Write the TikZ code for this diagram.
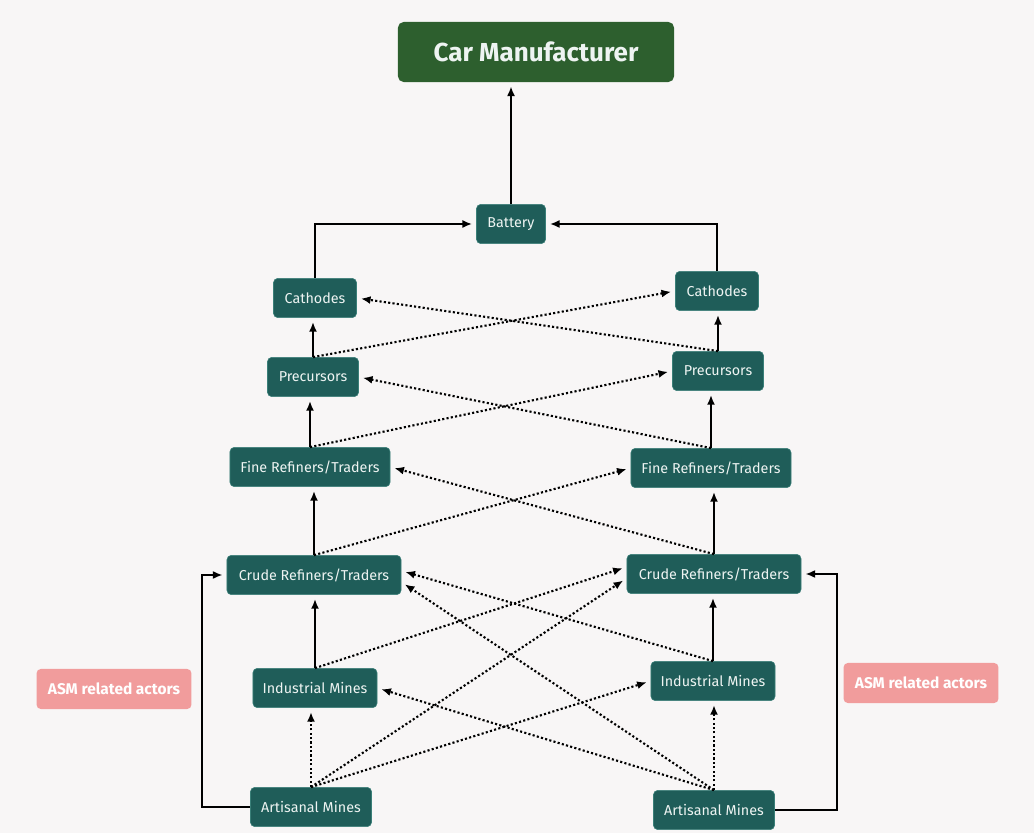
\documentclass[tikz,border=0pt]{standalone}
\usepackage{fontspec}
\setmainfont{Fira Sans}
\usepackage{tikz}
\usetikzlibrary{arrows.meta}
\definecolor{PageWhite}{HTML}{F8F6F6}
\definecolor{ForestGreen}{HTML}{2D5F2E}
\definecolor{DeepTeal}{HTML}{1F5D59}
\definecolor{TealEdge}{HTML}{3A7F78}
\definecolor{SoftPink}{HTML}{F19C9C}
\definecolor{PaleText}{HTML}{EEF4F2}

\begin{document}
\begin{tikzpicture}[x=0.025cm, y=-0.025cm, >={Latex[length=2.4mm,width=2mm]},
        actor/.style={draw=TealEdge, fill=DeepTeal, rounded corners=3pt, text=PaleText,
                      minimum height=0.98cm, inner sep=0pt, font=\fontsize{10.2}{12}\selectfont},
        asm/.style={fill=SoftPink, rounded corners=3pt, text=white, minimum width=3.87cm,
                    minimum height=1cm, font=\bfseries\fontsize{11}{13}\selectfont},
        flow/.style={->, line width=1.2pt, shorten >=3pt},
        link/.style={->, line width=1.5pt, dash pattern=on 1.5pt off 1.6pt, shorten >=3pt}]

  \fill[PageWhite] (0,0) rectangle (1034,833);
  \useasboundingbox (0,0) rectangle (1034,833);

  \node[fill=ForestGreen, rounded corners=4pt, text=PaleText, minimum width=6.9cm, minimum height=1.5cm,
        font=\bfseries\fontsize{18.5}{22}\selectfont] (car) at (536,52) {Car Manufacturer};

  \node[actor, minimum width=1.725cm] (battery) at (511,224) {Battery};
  \node[actor, minimum width=2.075cm] (cathL)   at (315,298) {Cathodes};
  \node[actor, minimum width=2.075cm] (cathR)   at (717,291) {Cathodes};
  \node[actor, minimum width=2.275cm] (precL)   at (313,377) {Precursors};
  \node[actor, minimum width=2.275cm] (precR)   at (718,371) {Precursors};
  \node[actor, minimum width=4.0cm]   (fineL)   at (310,467) {Fine Refiners/Traders};
  \node[actor, minimum width=4.0cm]   (fineR)   at (711,468) {Fine Refiners/Traders};
  \node[actor, minimum width=4.35cm]  (crudeL)  at (314,575) {Crude Refiners/Traders};
  \node[actor, minimum width=4.35cm]  (crudeR)  at (714,574) {Crude Refiners/Traders};
  \node[actor, minimum width=3.1cm]   (indL)    at (315,688) {Industrial Mines};
  \node[actor, minimum width=3.1cm]   (indR)    at (713,681) {Industrial Mines};
  \node[actor, minimum width=3.025cm] (artL)    at (311,807) {Artisanal Mines};
  \node[actor, minimum width=3.025cm] (artR)    at (714,810) {Artisanal Mines};

  \node[asm] (asmL) at (114,689) {ASM related actors};
  \node[asm] (asmR) at (921,683) {ASM related actors};

  % main chain
  \draw[flow] (battery.north) -- (battery.north |- car.south);
  \draw[flow] (cathL.north) |- (battery.west);
  \draw[flow] (cathR.north) |- (battery.east);
  \draw[flow] (precL.north) -- (precL.north |- cathL.south);
  \draw[flow] (precR.north) -- (precR.north |- cathR.south);
  \draw[flow] (fineL.north) -- (fineL.north |- precL.south);
  \draw[flow] (fineR.north) -- (fineR.north |- precR.south);
  \draw[flow] (crudeL.north) -- (crudeL.north |- fineL.south);
  \draw[flow] (crudeR.north) -- (crudeR.north |- fineR.south);
  \draw[flow] (indL.north) -- (indL.north |- crudeL.south);
  \draw[flow] (indR.north) -- (indR.north |- crudeR.south);
  \draw[flow] (artL.west) -- ++(-48,0) |- (crudeL.west);
  \draw[flow] (artR.east) -- ++(62,0) |- (crudeR.east);

  % cross links
  \draw[link] (precL.north) -- (cathR.west);
  \draw[link] (precR.north) -- (cathL.east);
  \draw[link] (fineL.north) -- (precR.west);
  \draw[link] (fineR.north) -- (precL.east);
  \draw[link] (crudeL.north) -- (fineR.west);
  \draw[link] (crudeR.north) -- (fineL.east);
  \draw[link] (indL.north) -- ([yshift=5pt]crudeR.west);
  \draw[link] (indR.north) -- ([yshift=3pt]crudeL.east);
  \draw[link] (artL.north) -- (artL.north |- indL.south);
  \draw[link] (artL.north) -- ([yshift=-3pt]crudeR.west);
  \draw[link] (artL.north) -- (indR.west);
  \draw[link] (artR.north) -- (artR.north |- indR.south);
  \draw[link] (artR.north) -- (indL.east);
  \draw[link] (artR.north) -- ([yshift=-5pt]crudeL.east);
\end{tikzpicture}
\end{document}
